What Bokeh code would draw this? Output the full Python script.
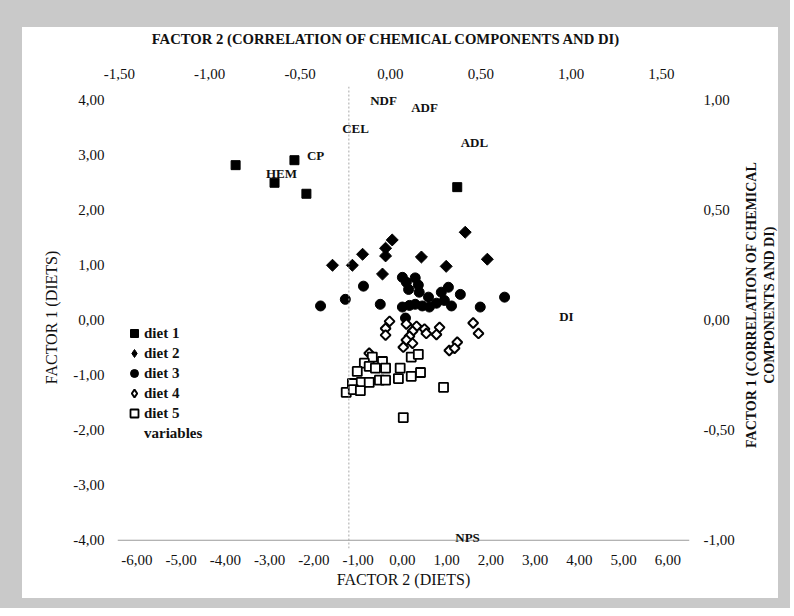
import math
from bokeh.plotting import figure
from bokeh.models import (Range1d, LinearAxis, FixedTicker, CustomJSTickFormatter,
                          Span, Legend, LegendItem, LabelSet, ColumnDataSource)
from bokeh.layouts import row, column
from bokeh.embed import file_html
from bokeh.resources import INLINE
from bokeh.core.properties import value

# ---------------- data ----------------
diet1_x = [-3.77, -2.44, -2.89, -2.17, 1.24]
diet1_y = [2.82, 2.91, 2.50, 2.30, 2.42]

diet2_x = [-1.58, -1.13, -0.90, -0.45, -0.38, -0.38, -0.23, 0.43, 0.99, 1.42, 1.92]
diet2_y = [1.00, 1.00, 1.20, 0.84, 1.17, 1.31, 1.46, 1.15, 0.98, 1.60, 1.11]

diet3_x = [-1.85, -1.29, -0.88, -0.50, 0.00, 0.09, 0.14, 0.29, 0.36, 0.38, 0.59, 0.88, 1.04,
           1.31, 2.31, 0.00, 0.16, 0.29, 0.45, 0.61, 0.77, 0.95, 1.11, 1.76, 0.07]
diet3_y = [0.26, 0.38, 0.62, 0.29, 0.78, 0.69, 0.56, 0.77, 0.64, 0.51, 0.42, 0.51, 0.60,
           0.47, 0.42, 0.24, 0.27, 0.29, 0.26, 0.24, 0.31, 0.36, 0.26, 0.24, 0.04]

diet4_x = [-0.29, -0.38, -0.38, 0.09, 0.32, 0.23, 0.50, 0.54, 0.84, 0.77, 0.16, 0.09, 0.23,
           0.02, 1.60, 1.72, 1.24, 1.06, 1.18, -0.75]
diet4_y = [-0.02, -0.15, -0.27, -0.07, -0.11, -0.20, -0.16, -0.24, -0.13, -0.26, -0.29, -0.36,
           -0.42, -0.49, -0.05, -0.24, -0.40, -0.55, -0.51, -0.60]

diet5_x = [0.20, 0.36, -0.68, -0.86, -0.75, -0.45, -0.61, -0.38, -1.02, -0.05, -0.09, 0.20,
           0.41, -1.13, -0.93, -0.75, -0.52, -0.38, -1.27, -1.11, -0.95, 0.93, 0.02]
diet5_y = [-0.67, -0.62, -0.67, -0.78, -0.84, -0.75, -0.87, -0.87, -0.93, -0.87, -1.06, -1.02,
           -0.95, -1.15, -1.13, -1.13, -1.09, -1.09, -1.31, -1.26, -1.28, -1.22, -1.77]

# variables (loadings, secondary axes)
var_names = ["CEL", "NDF", "ADF", "CP", "HEM", "ADL", "DI", "NPS"]
var_x = [-0.193, -0.038, 0.189, -0.414, -0.603, 0.465, 0.974, 0.427]
var_y = [0.870, 0.997, 0.965, 0.747, 0.669, 0.806, 0.018, -0.988]

bottom_ticks = [-6, -5, -4, -3, -2, -1, 0, 1, 2, 3, 4, 5, 6]
left_ticks = [-4, -3, -2, -1, 0, 1, 2, 3, 4]
top_ticks = [-1.5, -1.0, -0.5, 0.0, 0.5, 1.0, 1.5]
right_ticks = [-1.0, -0.5, 0.0, 0.5, 1.0]

top_title = "FACTOR 2 (CORRELATION OF CHEMICAL COMPONENTS AND DI)"
right_title_lines = ["FACTOR 1 (CORRELATION OF CHEMICAL", "COMPONENTS AND DI)"]

x_range_main = (-6.44, 6.49)
y_range_main = (-4.15, 4.25)
x_range_top = (-1.51, 1.655)
y_range_right = (-1.0375, 1.0625)
dashed_line_x = -1.21
base_line_y = -4.0

# ---------------- layout constants ----------------
SERIF = "Liberation Serif"
INK = "#111111"
FRAME_W, FRAME_H = 572, 462
BORDER_L, BORDER_R, BORDER_T, BORDER_B = 95, 50, 20, 50
MAIN_W = BORDER_L + FRAME_W + BORDER_R
MAIN_H = BORDER_T + FRAME_H + BORDER_B
STRIP_W = 39           # strip on the right carrying the rotated title
HEAD_H = 38            # strip on top carrying the top title
fmt = CustomJSTickFormatter(code="return tick.toFixed(2).replace('.', ',');")


def bare_figure(w, h):
    f = figure(width=w, height=h, output_backend="svg", toolbar_location=None,
               x_range=Range1d(0, w), y_range=Range1d(0, h), min_border=0,
               x_axis_location=None, y_axis_location=None,
               background_fill_color="white", border_fill_color="white",
               outline_line_color=None)
    f.grid.visible = False
    return f


p = figure(frame_width=FRAME_W, frame_height=FRAME_H, output_backend="svg",
           toolbar_location=None,
           x_range=Range1d(*x_range_main), y_range=Range1d(*y_range_main),
           min_border_left=BORDER_L, min_border_right=BORDER_R,
           min_border_top=BORDER_T, min_border_bottom=BORDER_B,
           background_fill_color="white", border_fill_color="white",
           outline_line_color=None, x_axis_location=None, y_axis_location=None)
p.grid.visible = False
p.extra_x_ranges = {"top": Range1d(*x_range_top)}
p.extra_y_ranges = {"right": Range1d(*y_range_right)}


def style_axis(ax, ticks, label, label_size, standoff, label_standoff):
    ax.ticker = FixedTicker(ticks=ticks)
    ax.formatter = fmt
    ax.major_tick_line_color = None
    ax.minor_tick_line_color = None
    ax.axis_line_color = None
    ax.major_label_text_font = SERIF
    ax.major_label_text_font_size = "15px"
    ax.major_label_text_color = INK
    ax.major_label_standoff = standoff
    if label:
        ax.axis_label = label
        ax.axis_label_text_font = SERIF
        ax.axis_label_text_font_style = "normal"
        ax.axis_label_text_font_size = label_size
        ax.axis_label_text_color = INK
        ax.axis_label_standoff = label_standoff


bottom = LinearAxis()
style_axis(bottom, bottom_ticks, "FACTOR 2 (DIETS)", "16px", 0, 3)
p.add_layout(bottom, "below")

left = LinearAxis()
style_axis(left, left_ticks, "FACTOR 1 (DIETS)", "16px", 7, 10)
p.add_layout(left, "left")

top = LinearAxis(x_range_name="top")
style_axis(top, top_ticks, None, None, 2, 0)
p.add_layout(top, "above")

right = LinearAxis(y_range_name="right")
style_axis(right, right_ticks, None, None, 8, 0)
p.add_layout(right, "right")

p.add_layout(Span(location=base_line_y, dimension="width", line_color="#9a9a9a",
                  line_width=1))
p.add_layout(Span(location=dashed_line_x, dimension="height", line_color="#a8a8a8",
                  line_dash="2 2", line_width=1))

# legend swatches for the diamond series (the legend cannot turn a square); each sits
# hidden under the first point of its series, which is drawn on top of it
k2 = p.scatter(x=diet2_x[:1], y=diet2_y[:1], marker="diamond", size=4,
               fill_color="black", line_color="black")
k4 = p.scatter(x=diet4_x[:1], y=diet4_y[:1], marker="diamond", size=3,
               fill_color="white", line_color="black", line_width=2)

DIAMOND = math.pi / 4  # a square turned by 45 degrees, as in the original
r1 = p.scatter(diet1_x, diet1_y, marker="square", size=9, fill_color="black", line_color="black")
r2 = p.scatter(diet2_x, diet2_y, marker="square", size=8.5, angle=DIAMOND,
               fill_color="black", line_color="black")
r3 = p.scatter(diet3_x, diet3_y, marker="circle", size=10, fill_color="black", line_color="black")
r4 = p.scatter(diet4_x, diet4_y, marker="square", size=7, angle=DIAMOND,
               fill_color="white", line_color="black", line_width=2)
r5 = p.scatter(diet5_x, diet5_y, marker="square", size=9, fill_color="white", line_color="black",
               line_width=1.8)
r6 = p.scatter(var_x, var_y, x_range_name="top", y_range_name="right", size=1,
               fill_alpha=0, line_alpha=0)

var_src = ColumnDataSource(data=dict(x=var_x, y=var_y, text=var_names))
p.add_layout(LabelSet(x="x", y="y", text="text", source=var_src,
                      x_range_name="top", y_range_name="right",
                      text_font=value(SERIF), text_font_style="bold", text_font_size="13px",
                      text_align="center", text_baseline="middle", text_color=INK))

legend = Legend(items=[LegendItem(label="diet 1", renderers=[r1]),
                       LegendItem(label="diet 2", renderers=[k2]),
                       LegendItem(label="diet 3", renderers=[r3]),
                       LegendItem(label="diet 4", renderers=[k4]),
                       LegendItem(label="diet 5", renderers=[r5]),
                       LegendItem(label="variables", renderers=[r6])],
                location=(7, 105), padding=0, margin=0, spacing=0,
                glyph_width=20, glyph_height=20, label_height=20, label_standoff=0,
                label_text_font=SERIF, label_text_font_style="bold",
                label_text_font_size="15px", label_text_color=INK,
                background_fill_alpha=0, border_line_color=None)
p.add_layout(legend)

# top strip: title of the top axis
head = bare_figure(MAIN_W + STRIP_W, HEAD_H)
head.text(x=[364], y=[HEAD_H - 11], text=[top_title], text_font=value(SERIF),
          text_font_style="bold", text_font_size="14.7px", text_align="center",
          text_baseline="middle", text_color=INK)

# right strip: rotated two-line title of the right axis
side = bare_figure(STRIP_W, MAIN_H)
title_center_y = MAIN_H - 252
side.text(x=[12, 30], y=[title_center_y, title_center_y], text=right_title_lines,
          angle=math.pi / 2, text_font=value(SERIF), text_font_style="bold",
          text_font_size="14px", text_align="center", text_baseline="middle", text_color=INK)

inner = column(head, row(p, side, styles={"background-color": "white"}),
               styles={"background-color": "white"})
page = column(inner, styles={"background-color": "#c9c9c9", "padding": "27px 12px 10px 22px"})
open("out.html", "w").write(file_html(page, INLINE))
